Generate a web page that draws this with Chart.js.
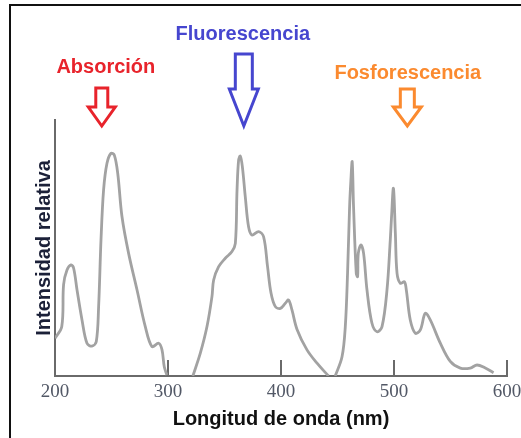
<!DOCTYPE html>
<html>
<head>
<meta charset="utf-8">
<script src="https://cdn.jsdelivr.net/npm/chart.js"></script>
<style>
  body { margin: 0; background: #fff; }
  #wrap { width: 521px; height: 438px; }
</style>
</head>
<body>
<div id="wrap"><canvas id="c" width="521" height="438"></canvas></div>
<script>
// espectros (longitud de onda en nm, intensidad relativa 0-100)
const absNm = [200, 206, 207.6, 210.6, 214.2, 216.5, 219.5, 223.9, 228.3, 232.7, 236.5, 238.6, 240.7, 243, 246, 249.6, 252.5, 255.5, 259.3, 265.1, 272.6, 279.9, 285.8, 291.7, 294.7, 296.7, 299];
const absI = [14.7, 19.3, 35.7, 41.4, 43.4, 42.1, 33.6, 21.9, 12.8, 11.7, 13.4, 27.1, 53.1, 72.7, 83.1, 87.0, 86.3, 79.2, 62.2, 48.0, 33.6, 19.3, 11.5, 12.8, 10.2, 3.6, 0.4];

const fluNm = [322, 328.6, 334.5, 338.9, 340.4, 344.8, 350.7, 356.6, 359.6, 361.1, 362.5, 364, 365.8, 368.4, 371.3, 374.3, 380.2, 384.6, 388.1, 391.2, 395, 399.4, 403.8, 406.7, 409.7, 414.2, 423, 431.9, 442];
const fluI = [0, 8.9, 19.3, 31, 37.5, 42.7, 46, 48.6, 51.8, 72.7, 84.4, 85.9, 81.8, 70, 58.3, 55.1, 56.4, 54.4, 42.7, 32.3, 27.1, 26.4, 28.4, 29.7, 25.8, 18.2, 10.2, 5, 0];

const phoNm = [448, 454, 456.9, 458.9, 460.7, 461.8, 463, 464.2, 466.6, 467.8, 468.4, 470.8, 473.1, 476.1, 480.5, 485, 489.4, 493.8, 496.7, 497.8, 499.5, 501.2, 502.7, 505.6, 509.2, 510.9, 514.4, 518.9, 523.3, 527.7, 532.1, 541, 549.8, 558.7, 567.5, 573.5, 580.8, 588.1];
const phoI = [0, 7.5, 19.3, 40.1, 66.1, 76, 83.7, 66.1, 40.1, 38.8, 47.9, 51.2, 47.9, 33.6, 20.6, 17.3, 19.3, 33.6, 53.1, 62, 73.3, 55.7, 40.1, 36.2, 36.8, 33.6, 21.9, 16.7, 18, 24.5, 21.9, 12.8, 5.7, 3.1, 3.1, 4.3, 3.1, 1.3];

const xTicks = [200, 300, 400, 500, 600];

// rótulos de cada zona
const notes = ['Absorción', 'Fluorescencia', 'Fosforescencia'];
const noteNm = [245, 366.2, 512.2];
const arrowNm = [241.4, 367.1, 511.8];

const toXY = (xs, ys) => xs.map((v, i) => ({ x: v, y: ys[i] }));

const lineStyle = {
  borderColor: '#a2a2a2',
  borderWidth: 2.8,
  pointRadius: 0,
  fill: false,
  tension: 0.35
};

// estilos de las flechas / textos (px)
const noteStyle = [
  { color: '#e8232b', base: 72.5, top: 88, headTop: 107, bottom: 126, shaft: 12, head: 27 },
  { color: '#4646cf', base: 39.5, top: 54, headTop: 89, bottom: 126, shaft: 17, head: 29 },
  { color: '#fb8a2f', base: 79, top: 89, headTop: 107, bottom: 126, shaft: 14, head: 28 }
];

const decor = {
  id: 'decor',
  afterDraw(chart) {
    const ctx = chart.ctx;
    const xs = chart.scales.x;
    ctx.save();
    // marco
    ctx.strokeStyle = '#111';
    ctx.lineWidth = 2;
    ctx.strokeRect(10, 5, 700, 600);

    notes.forEach((t, i) => {
      const s = noteStyle[i];
      ctx.fillStyle = s.color;
      ctx.font = 'bold 20px "Liberation Sans", Arial, sans-serif';
      ctx.textAlign = 'center';
      ctx.textBaseline = 'alphabetic';
      ctx.fillText(t, xs.getPixelForValue(noteNm[i]), s.base);

      const cx = xs.getPixelForValue(arrowNm[i]);
      ctx.strokeStyle = s.color;
      ctx.lineWidth = 3;
      ctx.lineJoin = 'miter';
      ctx.beginPath();
      ctx.moveTo(cx - s.shaft / 2, s.top);
      ctx.lineTo(cx + s.shaft / 2, s.top);
      ctx.lineTo(cx + s.shaft / 2, s.headTop);
      ctx.lineTo(cx + s.head / 2, s.headTop);
      ctx.lineTo(cx, s.bottom);
      ctx.lineTo(cx - s.head / 2, s.headTop);
      ctx.lineTo(cx - s.shaft / 2, s.headTop);
      ctx.closePath();
      ctx.stroke();
    });
    ctx.restore();
  }
};

new Chart(document.getElementById('c'), {
  type: 'line',
  data: {
    datasets: [
      { label: 'Absorción', data: toXY(absNm, absI), ...lineStyle },
      { label: 'Fluorescencia', data: toXY(fluNm, fluI), ...lineStyle },
      { label: 'Fosforescencia', data: toXY(phoNm, phoI), ...lineStyle }
    ]
  },
  options: {
    responsive: false,
    animation: false,
    devicePixelRatio: 1,
    layout: { padding: { top: 120, left: 32, right: 14, bottom: 7 } },
    plugins: { legend: { display: false }, tooltip: { enabled: false } },
    scales: {
      x: {
        type: 'linear',
        min: 200,
        max: 600,
        afterBuildTicks: (s) => { s.ticks = xTicks.map(v => ({ value: v })); },
        afterFit: (s) => { s.height = 55; s.paddingLeft = 0; s.paddingRight = 0; },
        border: { display: true, color: '#6a6a6a', width: 2 },
        grid: { display: true, drawOnChartArea: false, drawTicks: true, tickLength: -16, color: '#6a6a6a', lineWidth: 2 },
        ticks: {
          autoSkip: false,
          maxRotation: 0,
          padding: 21,
          color: '#525866',
          font: { family: '"Liberation Serif", "Times New Roman", serif', size: 19 }
        },
        title: {
          display: true,
          text: 'Longitud de onda (nm)',
          color: '#111',
          padding: { top: 0, bottom: 0 },
          font: { family: '"Liberation Sans", Arial, sans-serif', size: 20, weight: 'bold' }
        }
      },
      y: {
        min: 0,
        max: 100,
        afterFit: (s) => { s.width = 23; },
        border: { display: true, color: '#6a6a6a', width: 2 },
        grid: { display: false },
        ticks: { display: false },
        title: {
          display: true,
          text: 'Intensidad relativa',
          color: '#1b2038',
          padding: { top: 0, bottom: 0 },
          font: { family: '"Liberation Sans", Arial, sans-serif', size: 20, weight: 'bold' }
        }
      }
    }
  },
  plugins: [decor]
});
</script>
</body>
</html>
